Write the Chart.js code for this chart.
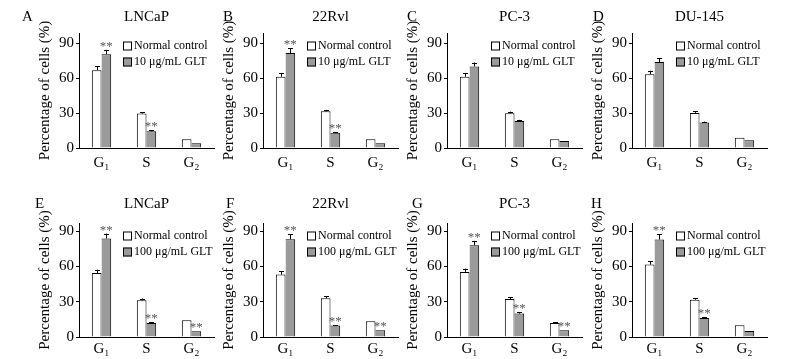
<!DOCTYPE html>
<html>
<head>
<meta charset="utf-8">
<script src="https://cdn.jsdelivr.net/npm/chart.js@4.4.1/dist/chart.umd.min.js"></script>
<style>
  html, body { margin: 0; padding: 0; background: #fff; }
  #fig { position: relative; width: 808px; height: 359px; overflow: hidden; }
  #fig canvas { position: absolute; }
</style>
</head>
<body>
<div id="fig"></div>
<script>
const phases = ['G₁', 'S', 'G₂'];
const yTicks = [0, 30, 60, 90];
const panelLetters = ['A', 'B', 'C', 'D', 'E', 'F', 'G', 'H'];
const cellLines = ['LNCaP', '22Rvl', 'PC-3', 'DU-145', 'LNCaP', '22Rvl', 'PC-3', ''];
const controlLabel = 'Normal control';
const doseLabels = ['10 μg/mL GLT', '100 μg/mL GLT'];

// one row per panel, columns G1 / S / G2
const controlValues = [
  [67.0, 29.6, 7.5], [61.3, 31.6, 7.5], [61.3, 29.9, 7.5], [63.5, 30.2, 8.9],
  [54.5, 31.2, 14.2], [53.1, 33.0, 13.4], [55.4, 32.4, 11.9], [61.6, 31.8, 9.9]
];
const controlErrors = [
  [3.5, 1.2, 0], [3.0, 1.2, 0], [3.0, 1.4, 0], [3.0, 1.5, 0],
  [2.8, 1.5, 0], [2.8, 1.6, 0], [2.8, 1.6, 0.6], [3.0, 1.4, 0]
];
const gltValues = [
  [80.8, 14.4, 4.0], [81.7, 13.2, 4.0], [70.2, 23.3, 6.0], [74.0, 21.9, 6.6],
  [83.8, 11.9, 4.8], [83.2, 9.7, 5.7], [78.1, 19.9, 5.7], [83.0, 16.2, 5.1]
];
const gltErrors = [
  [3.7, 0.8, 0], [4.0, 0.6, 0], [3.4, 0.9, 0], [3.5, 0.8, 0],
  [4.2, 0.6, 0], [4.3, 0.5, 0], [3.7, 1.0, 0], [4.5, 0.8, 0]
];
const gltSignificant = [
  [1, 1, 0], [1, 1, 0], [0, 0, 0], [0, 0, 0],
  [1, 1, 1], [1, 1, 1], [1, 1, 1], [1, 1, 0]
];

// layout of the 4x2 grid
const axisX = [79, 263, 447, 632];
const rowTop = [0, 188];
const rowHeight = [185, 171];
const rowXAxis = [37, 22];
const rowTickPad = [6, 3.5];
const rowMax = [99, 97];
const titlePad = [{ top: 8, bottom: 7 }, { top: 7, bottom: 10 }];
const letterDx = [-57, -40, -40, -39, -44, -37, -35, -41];

Chart.defaults.font.family = "'Liberation Serif', 'Times New Roman', serif";
Chart.defaults.color = '#000';

const errorBars = {
  id: 'errorBars',
  afterDatasetsDraw(chart) {
    const ctx = chart.ctx;
    const y = chart.scales.y;
    ctx.save();
    chart.data.datasets.forEach((ds, di) => {
      const meta = chart.getDatasetMeta(di);
      meta.data.forEach((bar, j) => {
        const e = ds.errors[j];
        let top = bar.y;
        if (e > 0) {
          top = y.getPixelForValue(ds.data[j] + e);
          const x = Math.round(bar.x) + 0.5;
          ctx.strokeStyle = '#000';
          ctx.lineWidth = 1;
          ctx.beginPath();
          ctx.moveTo(x, bar.y);
          ctx.lineTo(x, top);
          ctx.moveTo(x - 2.5, Math.round(top) + 0.5);
          ctx.lineTo(x + 2.5, Math.round(top) + 0.5);
          ctx.stroke();
        }
        if (ds.sig && ds.sig[j]) {
          ctx.fillStyle = '#555';
          ctx.font = "13px 'Liberation Serif', serif";
          ctx.textAlign = 'center';
          ctx.textBaseline = 'alphabetic';
          ctx.fillText('**', bar.x, top);
        }
      });
    });
    ctx.restore();
  }
};

const insideLegend = {
  id: 'insideLegend',
  afterDraw(chart, args, opts) {
    const ctx = chart.ctx;
    const area = chart.chartArea;
    const lx = area.left + 44;
    ctx.save();
    chart.data.datasets.forEach((ds, i) => {
      const cy = area.top + 13 + i * 16;
      ctx.fillStyle = ds.backgroundColor;
      ctx.fillRect(lx, cy - 4.5, 9, 9);
      ctx.strokeStyle = '#000';
      ctx.lineWidth = 1;
      ctx.strokeRect(lx + 0.5, cy - 4, 8, 8);
      ctx.fillStyle = '#000';
      ctx.font = "12px 'Liberation Serif', serif";
      ctx.textAlign = 'left';
      ctx.textBaseline = 'middle';
      ctx.fillText(ds.label, lx + 11, cy);
    });
    // panel letter
    ctx.font = "15px 'Liberation Serif', serif";
    ctx.textBaseline = 'middle';
    ctx.fillText(opts.letter, area.left + opts.dx, opts.titleY);
    ctx.restore();
  }
};

const fig = document.getElementById('fig');

panelLetters.forEach((letter, i) => {
  const col = i % 4;
  const row = Math.floor(i / 4);
  const canvas = document.createElement('canvas');
  canvas.width = 200;
  canvas.height = rowHeight[row];
  canvas.style.left = (axisX[col] - 60) + 'px';
  canvas.style.top = rowTop[row] + 'px';
  fig.appendChild(canvas);

  new Chart(canvas.getContext('2d'), {
    type: 'bar',
    data: {
      labels: phases,
      datasets: [{
        label: controlLabel,
        data: controlValues[i],
        errors: controlErrors[i],
        backgroundColor: '#ffffff',
        borderColor: '#000',
        borderWidth: { top: 1, left: 1, right: 1, bottom: 0 },
        categoryPercentage: 0.43,
        barPercentage: 1
      }, {
        label: doseLabels[row],
        data: gltValues[i],
        errors: gltErrors[i],
        sig: gltSignificant[i],
        backgroundColor: '#9b9b9b',
        borderColor: '#000',
        borderWidth: { top: 1, left: 0, right: 1, bottom: 0 },
        categoryPercentage: 0.43,
        barPercentage: 1
      }]
    },
    options: {
      responsive: false,
      animation: false,
      devicePixelRatio: 1,
      layout: { padding: { left: 16, right: 5, top: 0, bottom: 0 } },
      plugins: {
        legend: { display: false },
        tooltip: { enabled: false },
        title: {
          display: true,
          text: cellLines[i],
          fullSize: false,
          font: { size: 15, weight: 'normal' },
          color: '#000',
          padding: titlePad[row]
        },
        insideLegend: { letter: letter, dx: letterDx[i], titleY: titlePad[row].top + 9 }
      },
      scales: {
        x: {
          grid: { display: false, drawTicks: false },
          border: { display: true, color: '#000', width: 1 },
          ticks: { padding: rowTickPad[row], font: { size: 15 }, color: '#000', maxRotation: 0, autoSkip: false },
          afterFit: s => { s.height = rowXAxis[row]; }
        },
        y: {
          min: 0,
          max: rowMax[row],
          afterBuildTicks: s => { s.ticks = yTicks.map(v => ({ value: v })); },
          afterFit: s => { s.width = 44; },
          grid: { display: true, drawOnChartArea: false, drawTicks: true, tickLength: 3, color: '#000', tickColor: '#000' },
          border: { display: true, color: '#000', width: 1 },
          ticks: { padding: 2, font: { size: 15 }, color: '#000' },
          title: { display: true, text: 'Percentage of cells (%)', font: { size: 15 }, color: '#000', padding: 1 }
        }
      }
    },
    plugins: [errorBars, insideLegend]
  });
});
</script>
</body>
</html>
